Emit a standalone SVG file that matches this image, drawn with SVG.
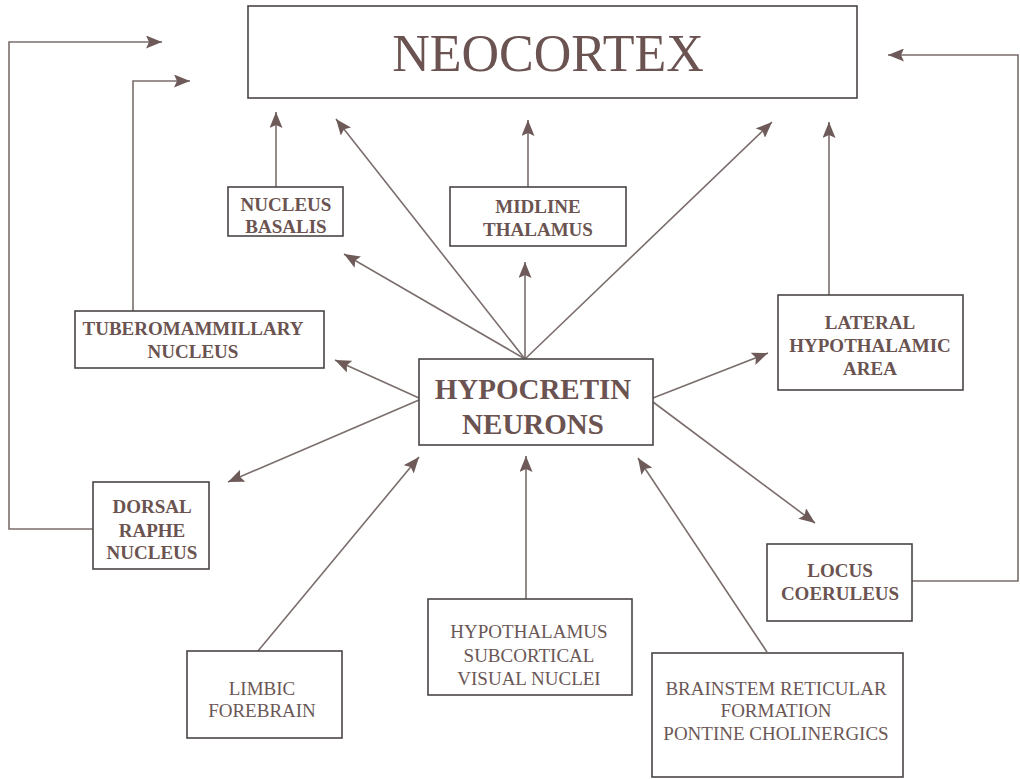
<svg xmlns="http://www.w3.org/2000/svg" width="1020" height="779" viewBox="0 0 1020 779">
<defs>
<marker id="ah" markerUnits="userSpaceOnUse" markerWidth="17" markerHeight="13" refX="16" refY="6.5" orient="auto">
<path d="M0,0 L16,6.5 L0,13 L3,6.5 z" fill="#6e5b59"/>
</marker>
<style>
.box{fill:#fff;stroke:#4a4545;stroke-width:1.6}
.ln{fill:none;stroke:#7a6e6c;stroke-width:1.6}
.ar{fill:none;stroke:#7a6e6c;stroke-width:1.6;marker-end:url(#ah)}
.b{font-family:"Liberation Serif",serif;font-weight:bold;font-size:19px;fill:#6a5350;text-anchor:middle}
.r{font-family:"Liberation Serif",serif;font-size:19px;fill:#6a5756;text-anchor:middle}
</style>
</defs>
<rect width="1020" height="779" fill="#fff"/>
<g id="connectors">
<polyline class="ar" points="93,529 9,529 9,42 162,42"/>
<polyline class="ar" points="133,311 133,81 190,81"/>
<polyline class="ar" points="912,581 1018,581 1018,55 888,55"/>
<line class="ar" x1="276" y1="187" x2="276" y2="112"/>
<line class="ar" x1="528" y1="187" x2="528" y2="120"/>
<line class="ar" x1="829" y1="295" x2="829" y2="122"/>
<line class="ar" x1="525" y1="359" x2="336" y2="119"/>
<line class="ar" x1="525" y1="359" x2="344" y2="254"/>
<line class="ar" x1="525" y1="359" x2="525" y2="262"/>
<line class="ar" x1="525" y1="359" x2="772" y2="122"/>
<line class="ar" x1="419" y1="398" x2="335" y2="360"/>
<line class="ar" x1="419" y1="400" x2="228" y2="482"/>
<line class="ar" x1="653" y1="398" x2="768" y2="353"/>
<line class="ar" x1="653" y1="402" x2="815" y2="523"/>
<line class="ar" x1="258" y1="651" x2="419" y2="457"/>
<line class="ar" x1="526" y1="599" x2="526" y2="456"/>
<line class="ar" x1="767" y1="652" x2="638" y2="458"/>
</g>
<g id="neocortex">
<rect class="box" x="248" y="6" width="609" height="92"/>
<text x="548" y="71" font-family="Liberation Serif, serif" font-size="52" fill="#6a5350" text-anchor="middle">NEOCORTEX</text>
</g>
<g id="nucleus-basalis">
<rect class="box" x="228" y="187" width="115" height="49"/>
<text class="b" x="286" y="211">NUCLEUS</text>
<text class="b" x="286" y="233">BASALIS</text>
</g>
<g id="midline-thalamus">
<rect class="box" x="450" y="187" width="176" height="59"/>
<text class="b" x="538" y="213">MIDLINE</text>
<text class="b" x="538" y="236">THALAMUS</text>
</g>
<g id="tuberomammillary">
<rect class="box" x="75" y="311" width="249" height="57"/>
<text class="b" x="193" y="335">TUBEROMAMMILLARY</text>
<text class="b" x="193" y="358">NUCLEUS</text>
</g>
<g id="hypocretin">
<rect class="box" x="419" y="359" width="234" height="86"/>
<text x="533" y="399" font-family="Liberation Serif, serif" font-weight="bold" font-size="29" fill="#6a5350" text-anchor="middle">HYPOCRETIN</text>
<text x="533" y="434" font-family="Liberation Serif, serif" font-weight="bold" font-size="29" fill="#6a5350" text-anchor="middle">NEURONS</text>
</g>
<g id="lateral-hypothalamic">
<rect class="box" x="778" y="295" width="185" height="95"/>
<text class="b" x="870" y="329">LATERAL</text>
<text class="b" x="870" y="352">HYPOTHALAMIC</text>
<text class="b" x="870" y="375">AREA</text>
</g>
<g id="dorsal-raphe">
<rect class="box" x="93" y="482" width="116" height="87"/>
<text class="b" x="152" y="513">DORSAL</text>
<text class="b" x="152" y="537">RAPHE</text>
<text class="b" x="152" y="559">NUCLEUS</text>
</g>
<g id="locus-coeruleus">
<rect class="box" x="767" y="544" width="145" height="77"/>
<text class="b" x="840" y="577">LOCUS</text>
<text class="b" x="840" y="600">COERULEUS</text>
</g>
<g id="limbic-forebrain">
<rect class="box" x="187" y="651" width="155" height="87"/>
<text class="r" x="262" y="695">LIMBIC</text>
<text class="r" x="262" y="717">FOREBRAIN</text>
</g>
<g id="hypothalamus">
<rect class="box" x="428" y="599" width="204" height="96"/>
<text class="r" x="529" y="638">HYPOTHALAMUS</text>
<text class="r" x="529" y="662">SUBCORTICAL</text>
<text class="r" x="529" y="685">VISUAL NUCLEI</text>
</g>
<g id="brainstem">
<rect class="box" x="652" y="653" width="251" height="124"/>
<text class="r" x="776" y="695">BRAINSTEM RETICULAR</text>
<text class="r" x="776" y="717">FORMATION</text>
<text class="r" x="776" y="740">PONTINE CHOLINERGICS</text>
</g>
</svg>
